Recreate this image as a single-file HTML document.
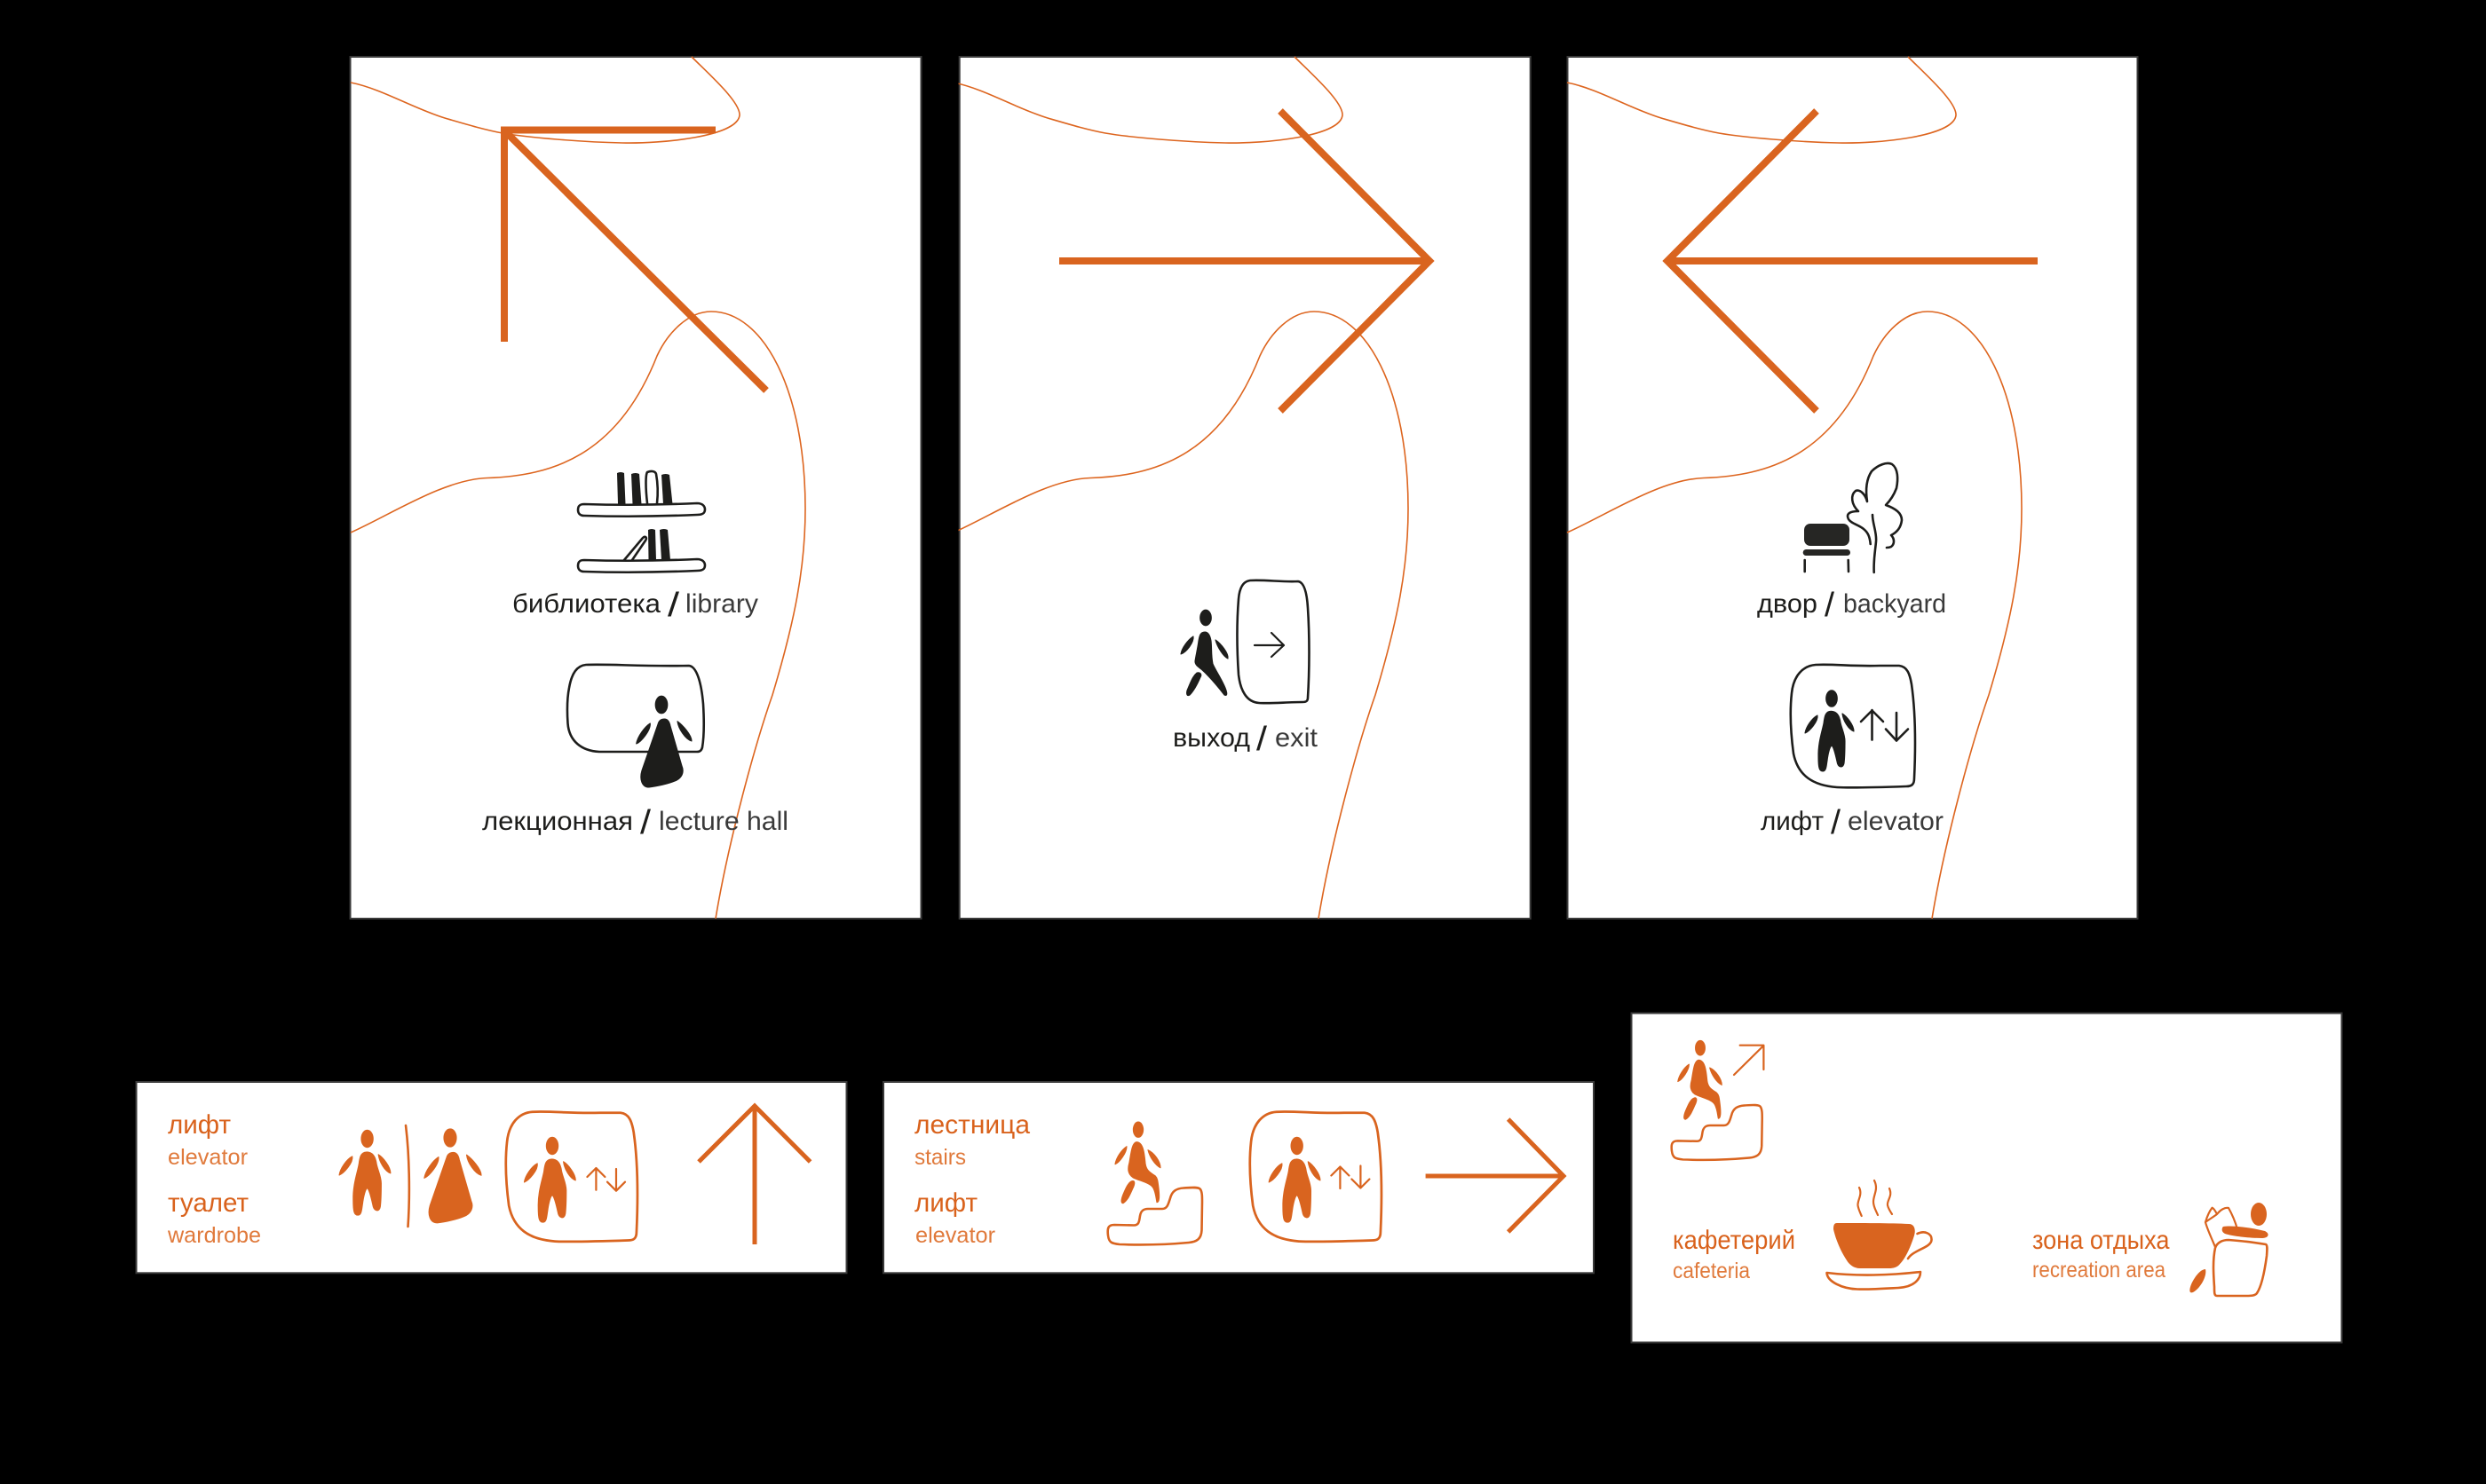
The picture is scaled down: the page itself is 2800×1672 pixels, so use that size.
<!DOCTYPE html>
<html lang="ru"><head><meta charset="utf-8"><title>Wayfinding signs</title>
<style>
html,body{margin:0;padding:0;background:#000;width:2800px;height:1672px;overflow:hidden}
svg{display:block}
text{font-family:"Liberation Sans","DejaVu Sans",sans-serif}
.k{fill:#1d1d1b;font-size:30px}
.s{fill:#1d1d1b;font-size:38px}
.l{fill:#3a3a3a;font-size:30px}
.o1{fill:#d9621c;font-size:30px}
.o2{fill:#e07a3c;font-size:25px}
.cv{fill:none;stroke:#dd651f;stroke-width:1.6}
.ar{fill:none;stroke:#d9641f;stroke-width:8;stroke-miterlimit:10}
.ar5{fill:none;stroke:#d9641f;stroke-width:5;stroke-miterlimit:10}
.bk{fill:none;stroke:#1d1d1b;stroke-width:2.6;stroke-linecap:round;stroke-linejoin:round}
.or{fill:none;stroke:#d9641f;stroke-width:2.6;stroke-linecap:round;stroke-linejoin:round}
.thin{stroke-width:2.2}
.fo{fill:#d9641f;stroke:#d9641f;stroke-width:1.1;stroke-linejoin:round}
.fk{fill:#1d1d1b;stroke:#1d1d1b;stroke-width:1.1;stroke-linejoin:round}
</style></head><body>
<svg xmlns="http://www.w3.org/2000/svg" width="2800" height="1672" viewBox="0 0 2800 1672">
<defs>
<g id="stand">
<ellipse cx="0" cy="0" rx="6.3" ry="9.2"/>
<path d="M-0.7 14.3C-7 14.3-8 20-9 28C-11 38-15.500 50-15 66C-15 78-14 82-10 82C-6 82-6 76-5 70C-4 62-2 54 0 53C2 54 4 62 6 71C7 78 13 79 14 73C15 65 15 55 15 48C15 40 11 33 10 27C9 20 6 14.300-0.7 14.300Z"/>
<path d="M-16 19C-22 22-29 32-30 39C-25 37-15 26-16 19Z"/>
<path d="M12 17C13 25 19 35 25 37C25 30 17 20 12 17Z"/>
</g>
<g id="woman">
<ellipse cx="0" cy="0" rx="6.800" ry="9.800"/>
<path d="M3.300 16C-1 16-3 18-4 22L-22 74C-25 84-22 93-14 93C-5 92 8 89 15 86C23 83 26 76 23 69L10 24C9 19 7 16 3.300 16Z"/>
<path d="M-12.700 21C-19 25-27 36-28.300 44C-23 42-12 29-12.700 21Z"/>
<path d="M18 18.700C19 27 27 39 34 41C34 34 24 23 18 18.700Z"/>
</g>
<g id="climb">
<ellipse cx="0" cy="0" rx="5.600" ry="8.600"/>
<path d="M-2 14C-7 15-8 25-10 37C-12 44-12 50-6 54C2 58 14 60 17 66C20 72 20 78 21 82C24 82 24 75 23 66C22 58 22 55 19 52C13 48 9 46 8 38C7 28 6 14-2 14Z"/>
<path d="M-7 58C-3 57-4 62-6 66C-9 73-12 80-17 83C-20 83-19 78-17 73C-14 66-11 59-7 58Z"/>
<path d="M-13 19C-19 23-25 32-26 39C-21 37-13 26-13 19Z"/>
<path d="M11 23C13 31 19 40 25 43C25 36 18 26 11 23Z"/>
</g>
<path id="box" d="M28 0C50-1 70 2 100 1L122 1C131 2 134 10 136 22C140 50 141 85 139 128C139 135 136 137 130 137C100 138 70 139 52 138C25 136 8 125 3 100C-1 70-1 50 1 32C3 12 14 1 28 0Z"/>
<path id="steps" d="M1 54C0 46 1 42 8 42L30 42.500C36 42.500 36 38 37 32C38 26 41 24 46 24L62 24C68 24 69 18 71 12C73 4 78 1 86 0.500C94 0 103-1 105 2C107 5 107 10 107 16L106.500 48C106 58 101 61 92 62C70 64 40 65 14 64C5 63 2 62 1 54Z"/>
<g id="curves">
<path class="cv" d="M0 29C35 36 70 58 106 69C130 76 150 82 171 86C200 91 260 96 306 97C350 98 435 90 438 66C439 51 405 21 384 0"/>
<path class="cv" d="M0 536C45 516 105 476 154 474.500C225 472 300 451 345 337C357 311 380 287 406 287C465 287 512 376 512 509C512 576 500 636 475 719C455 776 425 886 411 971"/>
</g>
</defs>
<rect width="2800" height="1672" fill="#000"/>

<!-- Tall panels -->
<rect x="394.500" y="64" width="643" height="971" fill="#fff" stroke="#3a3a3a" stroke-width="2"/>
<rect x="1080.700" y="64" width="643" height="971" fill="#fff" stroke="#3a3a3a" stroke-width="2"/>
<rect x="1765.500" y="64" width="642" height="971" fill="#fff" stroke="#3a3a3a" stroke-width="2"/>
<use href="#curves" x="395" y="64"/>
<use href="#curves" x="1074" y="64"/>
<use href="#curves" x="1765" y="64"/>
<rect x="1055" y="66" width="24.500" height="968" fill="#000"/>

<!-- Panel 1 -->
<path class="ar" d="M568 385V146.500H806"/>
<path class="ar" d="M569 148L863 440"/>
<g class="bk">
<path d="M658 568C690 569 740 569 785 567C792 567 794 571 794 574C794 579 790 580 785 580C740 582 690 582 658 581C653 581 651 578 651 574.500C651 570 653 568 658 568Z"/>
<path d="M658 631C690 632 740 632 785 630C792 630 794 634 794 637C794 642 790 643 785 643C740 645 690 645 658 644C653 644 651 641 651 637.500C651 633 653 631 658 631Z"/>
<path d="M703 631L724 606C727 603 729 606 727 609L712 631"/>
<path d="M729 567C727 550 727 535 729 532C734 530 738 531 739 534C741 545 741 558 740 567"/>
</g>
<g fill="#1d1d1b">
<path d="M695 533Q699 531 703 533L704.500 568L696 568Z"/>
<path d="M711 534Q716 532 720 534L722.500 568L712.500 568Z"/>
<path d="M745 535Q750 533 754 535L757.500 568L747 568Z"/>
<path d="M730 597Q734 595 738 597L739 631L730.500 631Z"/>
<path d="M743 597Q748 595 752 597L755 631L745 631Z"/>
</g>
<path class="bk" d="M660 749C690 748 720 751 776 750C785 751 790 770 792 793C793 810 793 830 791 842C790 846 788 847 785 847L675 847C655 846 641 835 639.500 815C638.500 800 639 785 641 775C644 758 650 750 660 749Z"/>
<use href="#woman" x="745" y="794" class="fk"/>
<text class="k" x="577" y="690" textLength="167" lengthAdjust="spacingAndGlyphs">библиотека</text>
<text class="s" x="752" y="694" textLength="13" lengthAdjust="spacingAndGlyphs">/</text>
<text class="l" x="772" y="690" textLength="82" lengthAdjust="spacingAndGlyphs">library</text>
<text class="k" x="543" y="935" textLength="170" lengthAdjust="spacingAndGlyphs">лекционная</text>
<text class="s" x="721" y="939" textLength="12" lengthAdjust="spacingAndGlyphs">/</text>
<text class="l" x="742" y="935" textLength="146" lengthAdjust="spacingAndGlyphs">lecture hall</text>

<!-- Panel 2 -->
<path class="ar" d="M1193 294H1606"/>
<path class="ar" d="M1442 125L1610 294L1442 463"/>
<path class="bk" d="M1408 654C1425 653 1445 656 1462 655C1469 656 1472 668 1473 685C1475 715 1475 755 1473 786C1473 790 1471 791 1467 791C1450 791 1430 793 1418 792C1404 791 1397 778 1395 760C1393 730 1393 700 1395 675C1396 662 1400 655 1408 654Z"/>
<path class="bk thin" d="M1413 727H1446M1432 713L1446 727L1432 740"/>
<g class="fk">
<ellipse cx="1358" cy="696" rx="6.300" ry="8.800"/>
<path d="M1357 712C1352 712 1351 716 1350 722C1349 730 1347 738 1346 745C1346 749 1349 751 1353 754C1362 762 1372 774 1379 783C1383 785 1382 780 1380 775C1376 765 1370 757 1366 748C1364 738 1365 730 1364 722C1363 716 1361 712 1357 712Z"/>
<path d="M1348 758C1352 757 1354 760 1352 763C1349 770 1345 778 1340 783C1337 785 1336 782 1337 778C1340 771 1343 762 1348 758Z"/>
<path d="M1344 717C1338 721 1331 730 1330 737C1336 735 1345 724 1344 717Z"/>
<path d="M1369 721C1371 729 1378 740 1383 742C1384 736 1375 725 1369 721Z"/>
</g>
<text class="k" x="1321" y="841" textLength="87" lengthAdjust="spacingAndGlyphs">выход</text>
<text class="s" x="1415" y="845" textLength="12" lengthAdjust="spacingAndGlyphs">/</text>
<text class="l" x="1436" y="841" textLength="48" lengthAdjust="spacingAndGlyphs">exit</text>

<!-- Panel 3 -->
<path class="ar" d="M2295 294H1883"/>
<path class="ar" d="M2046 125L1878 294L2046 463"/>
<rect x="2032" y="590" width="51" height="25" rx="7" fill="#262624"/>
<rect x="2030.700" y="619" width="53.300" height="7" rx="3.500" fill="#262624"/>
<path class="bk" d="M2032.700 631L2032.700 644M2081.700 631L2082 644"/>
<path class="bk" d="M2106.700 613C2106 605 2104 600 2099 596C2093 591 2085 590 2082 585C2079 579 2083 576 2093 576C2085 568 2084 558 2090 553C2095 551 2101 557 2103 565C2101 552 2102 540 2108 531C2115 524 2125 520 2131 523C2138 528 2138 540 2136 550C2133 558 2128 565 2124 569C2135 573 2142 578 2142 586C2141 595 2136 600 2130 603C2134 607 2134 613 2130 616C2128 617 2126 617 2125 617"/>
<path class="bk" d="M2109 580C2109 590 2114 600 2113 610C2112 622 2110 630 2110.700 645"/>
<use href="#box" x="2017" y="749" class="bk"/>
<use href="#stand" x="2063" y="787" class="fk"/>
<path class="bk" d="M2108.500 833.500V800M2096 813L2108.500 800.500L2121 813M2136 803V834.500M2124 821.500L2136 834.500L2149 821.500"/>
<text class="k" x="1979" y="690" textLength="68" lengthAdjust="spacingAndGlyphs">двор</text>
<text class="s" x="2055" y="694" textLength="11" lengthAdjust="spacingAndGlyphs">/</text>
<text class="l" x="2076" y="690" textLength="116" lengthAdjust="spacingAndGlyphs">backyard</text>
<text class="k" x="1983" y="935" textLength="71" lengthAdjust="spacingAndGlyphs">лифт</text>
<text class="s" x="2062" y="939" textLength="11" lengthAdjust="spacingAndGlyphs">/</text>
<text class="l" x="2081" y="935" textLength="108" lengthAdjust="spacingAndGlyphs">elevator</text>

<!-- Bottom panel A -->
<rect x="153.500" y="1219" width="800" height="215.300" fill="#fff" stroke="#3a3a3a" stroke-width="2"/>
<text class="o1" x="189" y="1277" textLength="71" lengthAdjust="spacingAndGlyphs">лифт</text>
<text class="o2" x="189" y="1312" textLength="90" lengthAdjust="spacingAndGlyphs">elevator</text>
<text class="o1" x="189" y="1365" textLength="91" lengthAdjust="spacingAndGlyphs">туалет</text>
<text class="o2" x="189" y="1400" textLength="105" lengthAdjust="spacingAndGlyphs">wardrobe</text>
<use href="#stand" transform="translate(413.600 1283) scale(1.050)" class="fo"/>
<path class="or" d="M457 1268C461 1300 462 1345 459.500 1382"/>
<use href="#woman" transform="translate(507 1282) scale(1.030)" class="fo"/>
<use href="#box" transform="translate(570 1252.700) scale(1.057)" class="or"/>
<use href="#stand" transform="translate(622 1291) scale(1.050)" class="fo"/>
<path class="or thin" d="M671.400 1340.700V1316M661.400 1326L671.400 1316L681.400 1326M694 1317V1341.700M684 1331.700L694 1341.700L704 1331.700"/>
<path class="ar5" d="M850 1402V1246"/>
<path class="ar5" d="M787 1309L850 1246L912.600 1309"/>

<!-- Bottom panel B -->
<rect x="995" y="1219" width="800" height="215.300" fill="#fff" stroke="#3a3a3a" stroke-width="2"/>
<text class="o1" x="1030" y="1277" textLength="130" lengthAdjust="spacingAndGlyphs">лестница</text>
<text class="o2" x="1030" y="1312" textLength="58" lengthAdjust="spacingAndGlyphs">stairs</text>
<text class="o1" x="1030" y="1365" textLength="71" lengthAdjust="spacingAndGlyphs">лифт</text>
<text class="o2" x="1031" y="1400" textLength="90" lengthAdjust="spacingAndGlyphs">elevator</text>
<use href="#climb" x="1282" y="1272.700" class="fo"/>
<use href="#steps" x="1247" y="1338" class="or"/>
<use href="#box" transform="translate(1408 1252.700) scale(1.057)" class="or"/>
<use href="#stand" transform="translate(1460.700 1291) scale(1.050)" class="fo"/>
<path class="or thin" d="M1509.400 1339V1314.500M1499.400 1324.500L1509.400 1314.500L1519.400 1324.500M1532.400 1313.500V1338.500M1522.400 1328.500L1532.400 1338.500L1542.400 1328.500"/>
<path class="ar5" d="M1605.600 1325H1760"/>
<path class="ar5" d="M1698.700 1261L1761 1325L1698.700 1388"/>

<!-- Bottom panel C -->
<rect x="1837.500" y="1141.500" width="800" height="371" fill="#fff" stroke="#3a3a3a" stroke-width="2"/>
<use href="#climb" transform="translate(1915 1180.700) scale(.97)" class="fo"/>
<path class="or thin" d="M1953 1211L1986.400 1178M1959.700 1177.700H1986.400V1205"/>
<use href="#steps" transform="translate(1882 1245) scale(.96)" class="or"/>
<text class="o1" x="1884" y="1407" textLength="138" lengthAdjust="spacingAndGlyphs">кафетерий</text>
<text class="o2" x="1884" y="1440" textLength="87" lengthAdjust="spacingAndGlyphs">cafeteria</text>
<path fill="#d9641f" d="M2069 1378C2095 1378 2130 1378 2150 1379C2156 1379 2158 1385 2156 1392C2152 1405 2146 1418 2140 1424C2137 1428 2132 1429 2128 1429L2095 1429C2088 1429 2083 1425 2080 1420C2072 1408 2067 1394 2065 1385C2065 1380 2066 1378 2069 1378Z"/>
<path class="or" d="M2159.500 1390C2168 1386 2176 1390 2175.500 1397C2175 1406 2155 1408 2149 1418"/>
<path class="or" d="M2057.500 1434C2090 1438 2130 1437 2163 1433C2163 1442 2155 1450 2138 1451C2120 1452 2105 1453 2092 1452.500C2075 1452 2058 1444 2057.500 1434Z"/>
<path class="or thin" d="M2094 1338C2098 1346 2092 1352 2092.500 1358C2093 1362 2095 1366 2096.700 1370M2111 1330C2116 1340 2110 1346 2110 1354C2110 1360 2113 1364 2115 1369M2128 1339C2132 1348 2125 1352 2126 1358C2127 1362 2129 1365 2131 1368"/>
<text class="o1" x="2289" y="1407" textLength="154.500" lengthAdjust="spacingAndGlyphs">зона отдыха</text>
<text class="o2" x="2289" y="1439" textLength="150" lengthAdjust="spacingAndGlyphs">recreation area</text>
<ellipse cx="2544" cy="1368" rx="9" ry="13" fill="#d9641f"/>
<path fill="#d9641f" d="M2504 1382C2515 1380 2540 1384 2551 1387C2557 1390 2555 1395 2548 1395C2535 1395 2515 1393 2506 1390C2502 1388 2502 1384 2504 1382Z"/>
<path class="or" d="M2495 1406C2497 1400 2503 1397 2510 1397C2525 1398 2540 1400 2552 1402C2554 1403 2553.500 1408 2553 1415C2551 1430 2548 1448 2542 1457C2540 1460 2535 1460 2530 1460L2497 1460C2494 1460 2494 1457 2494 1450C2493 1435 2492 1420 2495 1406Z"/>
<path class="or thin" d="M2495 1405C2491 1395 2486 1385 2484 1377C2486 1370 2489 1364 2491.600 1360.700C2494 1362 2496 1366 2497 1368C2501 1363 2506 1360 2510 1361C2514 1368 2518 1378 2520 1385M2484 1377C2488 1374 2493 1371 2497 1368"/>
<path fill="#d9641f" d="M2484 1430C2486 1437 2479 1451 2470 1456C2465 1458 2466 1452 2468 1447C2471 1440 2478 1430 2484 1430Z"/>
</svg>
</body></html>
